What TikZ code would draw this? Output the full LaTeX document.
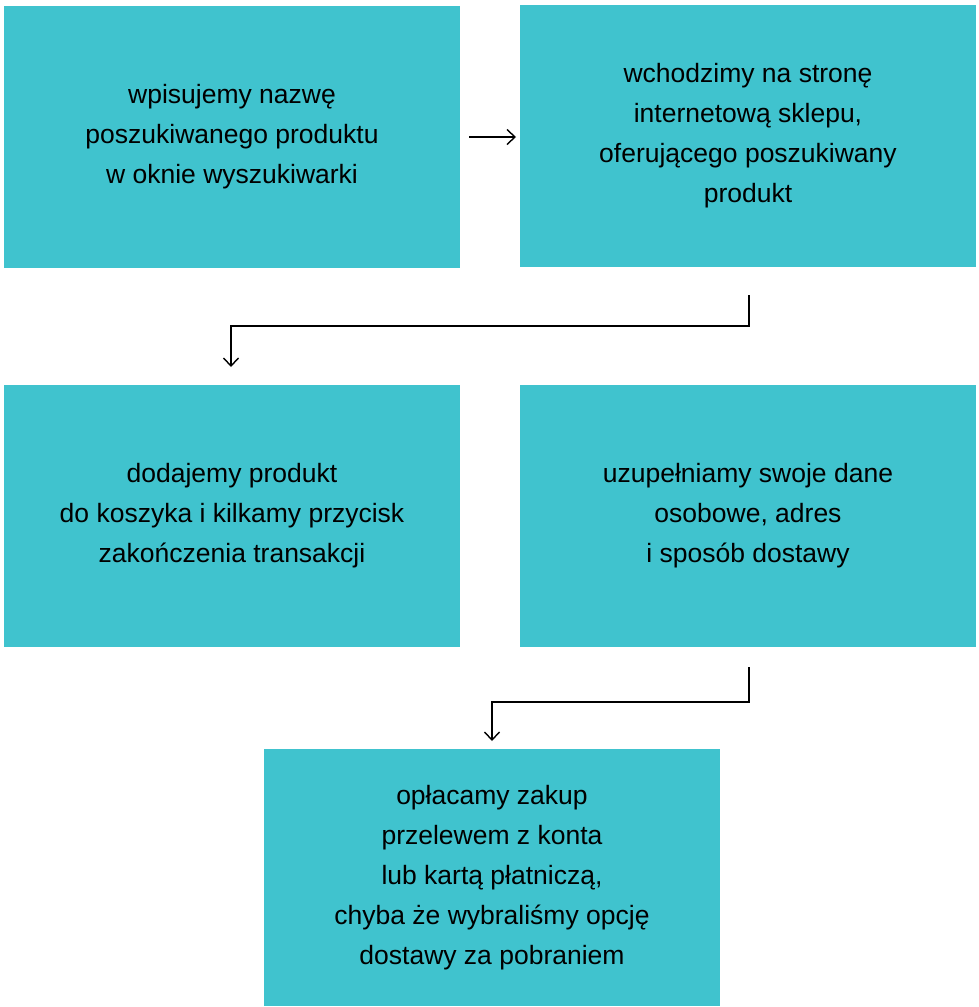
\documentclass[tikz,border=0pt]{standalone}
\usepackage{fontspec}
\setmainfont{Liberation Sans}
\usetikzlibrary{arrows.meta}
\definecolor{boxc}{HTML}{40C3CE}
\begin{document}
\begin{tikzpicture}[x=1pt,y=-1pt,
  stepbox/.style={fill=boxc,draw=none,minimum width=456pt,minimum height=262pt,align=center,
    font=\fontsize{26.5pt}{40pt}\selectfont,inner sep=0pt},
  conn/.style={line width=1.4pt,-{Straight Barb[length=8pt,width=15pt,line width=1.4pt]}}]
\useasboundingbox (0,0) rectangle (979,1007);
\node[stepbox] (b1) at (232,137) {wpisujemy nazwę\\poszukiwanego produktu\\w oknie wyszukiwarki};
\node[stepbox] (b2) at (748,136) {wchodzimy na stronę\\internetową sklepu,\\oferującego poszukiwany\\produkt};
\node[stepbox] (b3) at (232,516) {dodajemy produkt\\do koszyka i kilkamy przycisk\\zakończenia transakcji};
\node[stepbox] (b4) at (748,516) {uzupełniamy swoje dane\\osobowe, adres\\i sposób dostawy};
\node[stepbox,minimum height=257pt] (b5) at (492,877.5) {opłacamy zakup\\przelewem z konta\\lub kartą płatniczą,\\chyba że wybraliśmy opcję\\dostawy za pobraniem};
\coordinate (a1s) at (469,137);
\coordinate (a1e) at (516,137);
\draw[conn] (a1s) -- (a1e);
\coordinate (a2s) at (749,295);
\coordinate (a2e) at (231,367);
\draw[conn] (a2s) -- (749,326) -| (a2e);
\coordinate (a3s) at (749,667);
\coordinate (a3e) at (492,741);
\draw[conn] (a3s) -- (749,702) -| (a3e);
\end{tikzpicture}
\end{document}
